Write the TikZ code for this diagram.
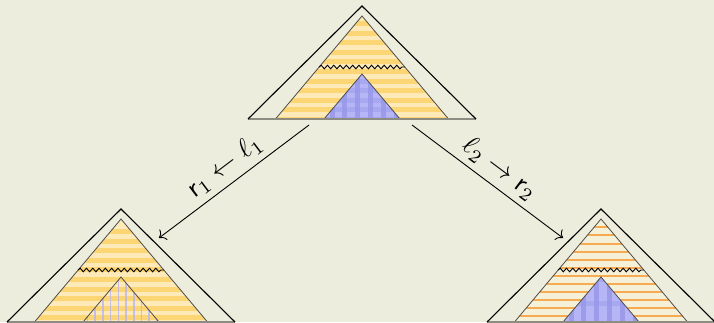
\documentclass[tikz,border=0pt]{standalone}
\usepackage{graphicx}
\usetikzlibrary{decorations.pathmorphing,arrows.meta}
\definecolor{bg}{RGB}{237,237,221}
\definecolor{ydark}{RGB}{252,213,116}
\definecolor{ylight}{RGB}{253,234,184}
\definecolor{cream}{RGB}{245,240,216}
\definecolor{orng}{RGB}{248,170,80}
\definecolor{blight}{RGB}{182,182,246}
\definecolor{bband}{RGB}{168,168,240}
\definecolor{bdark}{RGB}{152,152,234}
\definecolor{lav}{RGB}{186,180,236}
\definecolor{basegray}{RGB}{140,140,130}
\newcommand\ytri{(-86.5,113) -- (0,10) -- (86.5,113) -- cycle}
\newcommand\btri{(-38,113) -- (0,68) -- (38,113) -- cycle}
\newcommand\biglab[1]{\scalebox{2.7}{#1}}
\tikzset{
  outerline/.style={draw=black,line width=1.1pt,line join=miter},
  baseline/.style={draw=basegray,line width=1.1pt},
  innerline/.style={draw=black!70,line width=0.8pt,line join=miter},
  waveline/.style={draw=black,line width=0.9pt,decorate,
    decoration={snake,amplitude=1.8pt,segment length=6.3pt}},
  arr/.style={draw=black,line width=0.9pt,-{To[length=6pt,width=13pt]}},
  lab/.style={sloped,above=5pt,inner sep=1pt}
}
\newcommand\pyrframe{%
  \draw[innerline] \ytri;
  \draw[innerline] \btri;
  \draw[waveline] (-42.8,61) -- (42.8,61);
  \draw[baseline] (-114,113) -- (114,113);
  \draw[outerline] (-114,113) -- (0,0) -- (114,113);
}
\begin{document}
\begin{tikzpicture}[x=1pt,y=-1pt]
\fill[bg] (0,0) rectangle (714,322);
\useasboundingbox (0,0) rectangle (714,322);

% ---------- top pyramid ----------
\begin{scope}[shift={(362,6)}]
  \coordinate (topapex) at (0,0);
  \begin{scope}
    \clip \ytri;
    \fill[ylight] (-90,8) rectangle (90,115);
    \foreach \k in {0,...,10} \fill[ydark] (-90,15+9.6*\k) rectangle (90,20+9.6*\k);
  \end{scope}
  \begin{scope}
    \clip \btri;
    \fill[blight] (-40,66) rectangle (40,115);
    \foreach \k in {5,...,10} \fill[bband] (-40,15+9.6*\k) rectangle (40,20+9.6*\k);
    \foreach \k in {-4,...,4} \fill[bdark,opacity=0.85] (-6.8+12.8*\k,66) rectangle (-1.8+12.8*\k,115);
  \end{scope}
  \pyrframe
\end{scope}

% ---------- bottom-left pyramid ----------
\begin{scope}[shift={(121,209)}]
  \coordinate (leftapex) at (0,0);
  \begin{scope}
    \clip \ytri;
    \fill[ylight] (-90,8) rectangle (90,115);
    \foreach \k in {0,...,10} \fill[ydark] (-90,20+9.6*\k) rectangle (90,25+9.6*\k);
  \end{scope}
  \begin{scope}
    \clip \btri;
    \foreach \k in {-5,...,5} \fill[lav,opacity=0.8] (-3.5+7.7*\k,66) rectangle (-1.9+7.7*\k,115);
  \end{scope}
  \pyrframe
\end{scope}

% ---------- bottom-right pyramid ----------
\begin{scope}[shift={(601,209)}]
  \coordinate (rightapex) at (0,0);
  \begin{scope}
    \clip \ytri;
    \fill[cream] (-90,8) rectangle (90,115);
    \foreach \k in {-1,...,12} \fill[orng] (-90,17.4+8.07*\k) rectangle (90,19.4+8.07*\k);
  \end{scope}
  \begin{scope}
    \clip \btri;
    \fill[blight] (-40,66) rectangle (40,115);
    \foreach \k in {-1,...,2} \fill[bband] (-40,92+24*\k) rectangle (40,96.5+24*\k);
    \foreach \k in {-4,...,4} \fill[bdark,opacity=0.85] (-6.8+12.8*\k,66) rectangle (-1.8+12.8*\k,115);
  \end{scope}
  \pyrframe
\end{scope}

% ---------- connectors ----------
\coordinate (topL) at (309,125);
\coordinate (topR) at (412,125);
\coordinate (leftEnd) at (159,238);
\coordinate (rightEnd) at (563,238);
\draw[arr] (topL) -- node[lab,pos=0.49] {\biglab{$\mathsf{r}_1\leftarrow\ell_1$}} (leftEnd);
\draw[arr] (topR) -- node[lab,pos=0.51] {\biglab{$\ell_2\rightarrow\mathsf{r}_2$}} (rightEnd);
\end{tikzpicture}
\end{document}
